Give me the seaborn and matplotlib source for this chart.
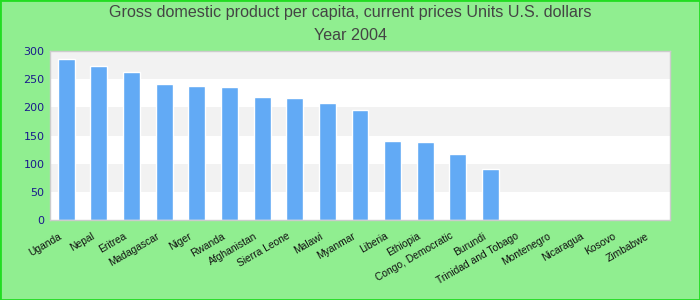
import matplotlib
matplotlib.use("Agg")
import matplotlib.pyplot as plt
import matplotlib.transforms as mtrans
import seaborn as sns
import pandas as pd
import numpy as np

countries = ["Uganda", "Nepal", "Eritrea", "Madagascar", "Niger", "Rwanda",
             "Afghanistan", "Sierra Leone", "Malawi", "Myanmar", "Liberia",
             "Ethiopia", "Congo, Democratic", "Burundi", "Trinidad and Tobago",
             "Montenegro", "Nicaragua", "Kosovo", "Zimbabwe"]
gdp = [286, 273, 263, 241, 238, 236, 218, 217, 208, 195, 140, 138, 117, 91,
       np.nan, np.nan, np.nan, np.nan, np.nan]
y_ticks = [0, 50, 100, 150, 200, 250, 300]
title_line1 = "Gross domestic product per capita, current prices Units U.S. dollars"
title_line2 = "Year 2004"

df = pd.DataFrame({"country": countries, "gdp": gdp})

sns.set_style("white")
plt.rcParams['font.family'] = ['DejaVu Sans']

fig = plt.figure(figsize=(7, 3), dpi=100, facecolor="#90ee90")
fig.patches.append(plt.Rectangle((0, 0), 1, 1, transform=fig.transFigure,
                                 fill=False, edgecolor="#22dd22", linewidth=2))
ax = fig.add_axes([50/700, 1 - 220/300, 620/700, 169/300])
ax.set_facecolor("white")

for i in range(0, 6):
    if i % 2 == 1:
        ax.axhspan(y_ticks[i], y_ticks[i + 1], color="#f2f2f2", zorder=0, lw=0)

sns.barplot(data=df, x="country", y="gdp", order=countries, color="#62aaf5",
            saturation=1, width=0.52, ax=ax, zorder=2)

ax.set_xlim(-0.5, len(countries) - 0.5)
ax.set_ylim(0, 300)
ax.set_yticks(y_ticks)
ax.set_yticklabels([str(v) for v in y_ticks], color="#1a1a8c", fontsize=8,
                   family="DejaVu Sans")
ax.set_xticks(range(len(countries)))
ax.set_xticklabels([])
ax.tick_params(axis="both", length=0, pad=4)
ax.set_xlabel("")
ax.set_ylabel("")
for s in ax.spines.values():
    s.set_color("#cccccc")
    s.set_linewidth(1)

trans = mtrans.blended_transform_factory(ax.transData, ax.transAxes) + \
    mtrans.ScaledTranslation(-8/100, -11/100, fig.dpi_scale_trans)
for i, c in enumerate(countries):
    ax.text(i, 0, c, transform=trans, rotation=30, ha="right", va="top",
            rotation_mode="anchor", fontsize=7.4, family="Liberation Sans",
            color="#111111", clip_on=False)

fig.text(0.5, 1 - 13/300, title_line1, ha="center", va="center", fontsize=11.6,
         color="#444444", family="Liberation Sans")
fig.text(0.5, 1 - 36/300, title_line2, ha="center", va="center", fontsize=11.6,
         color="#444444", family="Liberation Sans")

fig.savefig("out.png", dpi=100, facecolor=fig.get_facecolor())
